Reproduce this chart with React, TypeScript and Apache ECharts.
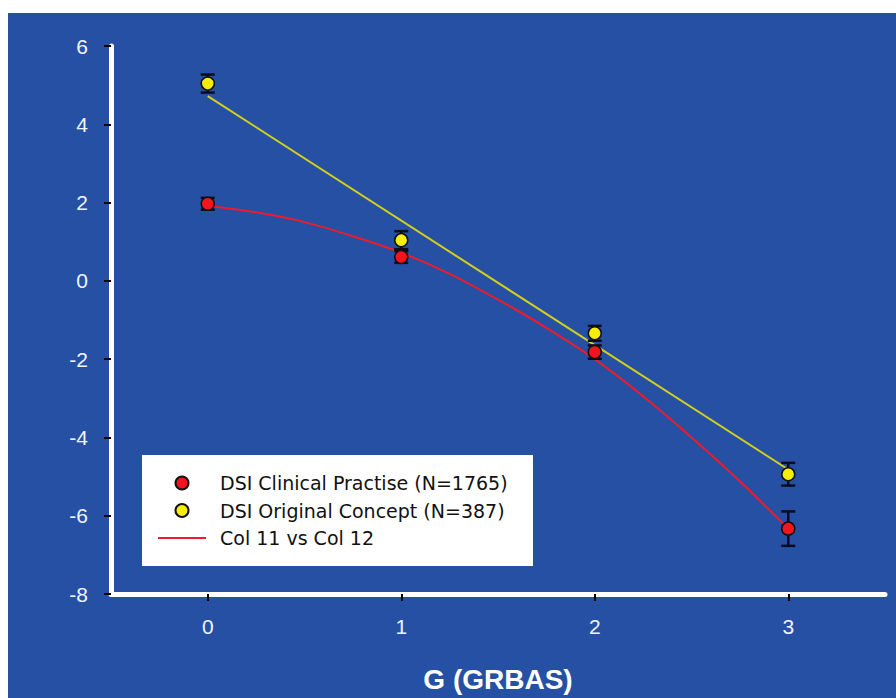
import React, { useEffect, useRef } from "react";
import * as echarts from "echarts";

// ---- data ----
const gValues = [0, 1, 2, 3];
const clinicalMean = [1.97, 0.61, -1.82, -6.33];
const clinicalErr = [0.15, 0.15, 0.17, 0.44];
const originalMean = [5.04, 1.04, -1.34, -4.94];
const originalErr = [0.23, 0.23, 0.19, 0.29];

const clinicalFitX = [0, 0.25, 0.5, 0.75, 1, 1.25, 1.5, 1.75, 2, 2.25, 2.5, 2.75, 3];
const clinicalFitY = [1.92, 1.75, 1.5, 1.14, 0.72, 0.18, -0.48, -1.2, -2.0, -2.95, -4.0, -5.12, -6.33];
const originalFitX = [0, 3];
const originalFitY = [4.72, -4.82];

const yMin = -8;
const yMax = 6;
const yInterval = 2;
const xMin = -0.5;
const xMax = 3.5;

const nameClinical = "DSI Clinical Practise (N=1765)";
const nameOriginal = "DSI Original Concept (N=387)";
const nameFit = "Col 11 vs Col 12";
const xAxisName = "G (GRBAS)";

const BG = "#2550A3";

function errorBarSeries(mean: number[], err: number[]) {
  return {
    type: "custom",
    silent: true,
    z: 3,
    data: gValues.map((x, i) => [x, mean[i] - err[i], mean[i] + err[i]]),
    encode: { x: 0, y: [1, 2] },
    renderItem: (_params: any, api: any) => {
      const x = api.value(0);
      const lo = api.coord([x, api.value(1)]);
      const hi = api.coord([x, api.value(2)]);
      const w = 7;
      const st = { stroke: "#0b0b1e", lineWidth: 2.5 };
      return {
        type: "group",
        children: [
          { type: "line", shape: { x1: lo[0], y1: lo[1], x2: hi[0], y2: hi[1] }, style: st },
          { type: "line", shape: { x1: lo[0] - w, y1: lo[1], x2: lo[0] + w, y2: lo[1] }, style: st },
          { type: "line", shape: { x1: hi[0] - w, y1: hi[1], x2: hi[0] + w, y2: hi[1] }, style: st },
        ],
      };
    },
  };
}

export default function App() {
  const ref = useRef<HTMLDivElement>(null);
  useEffect(() => {
    if (!ref.current) return;
    const chart = echarts.init(ref.current, undefined, { renderer: "svg" });
    const option: any = {
      animation: false,
      backgroundColor: BG,
      grid: { left: 103, top: 33, right: 11, bottom: 99, containLabel: false },
      legend: {
        orient: "vertical",
        left: 134,
        top: 442,
        backgroundColor: "#ffffff",
        padding: [18, 18, 18, 16],
        itemGap: 7.5,
        itemWidth: 48,
        itemHeight: 13,
        selectedMode: false,
        data: [
          { name: nameClinical },
          { name: nameOriginal },
          { name: nameFit, icon: "path://M0,0H48V2H0Z", itemStyle: { color: "#ee1c2a", borderWidth: 0 } },
        ],
        textStyle: {
          color: "#111111",
          fontSize: 19,
          fontFamily: "DejaVu Sans",
          width: 295,
          lineHeight: 20,
          padding: [0, 0, 0, 9],
        },
      },
      xAxis: {
        type: "value",
        min: xMin,
        max: xMax,
        name: xAxisName,
        nameLocation: "middle",
        nameGap: 71,
        nameTextStyle: {
          color: "#ffffff",
          fontSize: 28,
          fontWeight: "bold",
          fontFamily: "Liberation Sans",
        },
        axisLine: { show: true, onZero: false, lineStyle: { color: "#ffffff", width: 5, cap: "round" } },
        axisTick: { show: true, customValues: gValues, length: 7, lineStyle: { color: "#000000", width: 2 } },
        axisLabel: {
          customValues: gValues,
          color: "#f2f4ff",
          fontSize: 21,
          fontFamily: "Liberation Sans",
          margin: 22,
        },
        splitLine: { show: false },
      },
      yAxis: {
        type: "value",
        min: yMin,
        max: yMax,
        interval: yInterval,
        axisLine: { show: true, onZero: false, lineStyle: { color: "#ffffff", width: 5 } },
        axisTick: { show: true, length: 7, lineStyle: { color: "#000000", width: 2 } },
        axisLabel: { color: "#f2f4ff", fontSize: 21, fontFamily: "Liberation Sans", margin: 23 },
        splitLine: { show: false },
      },
      series: [
        {
          name: "original fit",
          type: "line",
          z: 2,
          symbol: "none",
          silent: true,
          lineStyle: { color: "#d4cf1c", width: 2 },
          data: originalFitX.map((x, i) => [x, originalFitY[i]]),
        },
        {
          name: nameFit,
          type: "line",
          z: 2,
          symbol: "none",
          smooth: 0.3,
          silent: true,
          itemStyle: { color: "#ee1c2a" },
          lineStyle: { color: "#ee1c2a", width: 2 },
          data: clinicalFitX.map((x, i) => [x, clinicalFitY[i]]),
        },
        errorBarSeries(originalMean, originalErr),
        errorBarSeries(clinicalMean, clinicalErr),
        {
          name: nameClinical,
          type: "scatter",
          z: 5,
          symbol: "circle",
          symbolSize: 13,
          itemStyle: { color: "#f2141e", borderColor: "#111111", borderWidth: 1.5, opacity: 1 },
          data: gValues.map((x, i) => [x, clinicalMean[i]]),
        },
        {
          name: nameOriginal,
          type: "scatter",
          z: 5,
          symbol: "circle",
          symbolSize: 13,
          itemStyle: { color: "#f4ee08", borderColor: "#111111", borderWidth: 1.5, opacity: 1 },
          data: gValues.map((x, i) => [x, originalMean[i]]),
        },
      ],
    };
    chart.setOption(option);
    return () => chart.dispose();
  }, []);

  return (
    <div style={{ position: "fixed", left: 0, top: 0, width: 896, height: 698, background: "#ffffff" }}>
      <div ref={ref} style={{ position: "absolute", left: 8, top: 13, width: 888, height: 685 }} />
    </div>
  );
}
